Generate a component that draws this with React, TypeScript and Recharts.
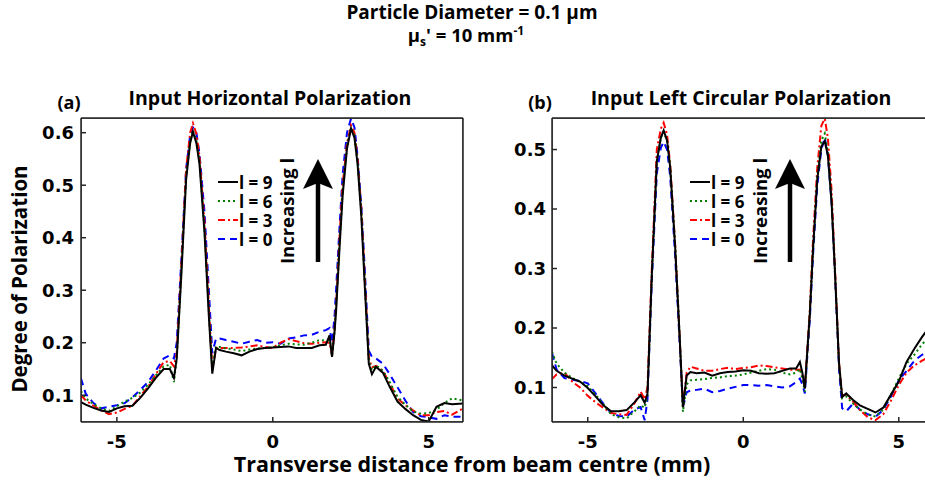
import React from "react";
import { LineChart, Line, XAxis, YAxis, ReferenceArea } from "recharts";

// transverse distance (mm), shared by both panels
const distance = [
  -6.15, -6.0, -5.75, -5.5, -5.25, -5.0, -4.75, -4.5, -4.25, -4.0,
  -3.75, -3.5, -3.3, -3.17, -3.08, -2.94, -2.78, -2.65, -2.56, -2.45,
  -2.35, -2.19, -2.05, -1.94, -1.82, -1.7, -1.5, -1.25, -1.0, -0.75,
  -0.5, -0.25, 0, 0.25, 0.5, 0.75, 1.0, 1.25, 1.5, 1.7,
  1.82, 1.9, 1.98, 2.03, 2.14, 2.24, 2.38, 2.51, 2.62, 2.72,
  2.84, 2.94, 3.08, 3.18, 3.31, 3.53, 3.75, 4.0, 4.25, 4.5,
  4.75, 5.0, 5.25, 5.5, 5.75, 6.1,
];

// (a) input horizontal polarization
const horizL9 = [
  0.087, 0.082, 0.076, 0.071, 0.068, 0.075, 0.079, 0.08, 0.095, 0.113,
  0.133, 0.15, 0.15, 0.133, 0.17, 0.32, 0.51, 0.58, 0.602, 0.58,
  0.54, 0.41, 0.25, 0.141, 0.19, 0.186, 0.183, 0.18, 0.176, 0.183,
  0.188, 0.19, 0.191, 0.192, 0.193, 0.19, 0.19, 0.19, 0.195, 0.196,
  0.214, 0.173, 0.22, 0.26, 0.38, 0.48, 0.57, 0.608, 0.59, 0.54,
  0.44, 0.32, 0.16, 0.14, 0.154, 0.143, 0.116, 0.088, 0.074, 0.062,
  0.053, 0.05, 0.078, 0.085, 0.083, 0.084,
];
const horizL6 = [
  0.108, 0.094, 0.083, 0.075, 0.07, 0.079, 0.088, 0.095, 0.105, 0.12,
  0.138, 0.155, 0.158, 0.125, 0.17, 0.33, 0.52, 0.585, 0.605, 0.585,
  0.545, 0.42, 0.26, 0.15, 0.193, 0.192, 0.189, 0.187, 0.184, 0.187,
  0.189, 0.19, 0.191, 0.195, 0.198, 0.197, 0.196, 0.2, 0.205, 0.204,
  0.205, 0.175, 0.225, 0.27, 0.39, 0.49, 0.575, 0.61, 0.595, 0.545,
  0.45, 0.33, 0.165, 0.148, 0.157, 0.147, 0.125, 0.097, 0.082, 0.069,
  0.065, 0.066, 0.072, 0.085, 0.094, 0.09,
];
const horizL3 = [
  0.1, 0.09, 0.08, 0.071, 0.064, 0.067, 0.074, 0.08, 0.098, 0.116,
  0.14, 0.163, 0.165, 0.155, 0.18, 0.34, 0.53, 0.6, 0.618, 0.598,
  0.555, 0.43, 0.27, 0.148, 0.19, 0.19, 0.19, 0.19, 0.191, 0.193,
  0.195, 0.192, 0.19, 0.2, 0.207, 0.203, 0.199, 0.198, 0.2, 0.201,
  0.2, 0.176, 0.225, 0.27, 0.4, 0.5, 0.58, 0.614, 0.6, 0.55,
  0.455, 0.335, 0.17, 0.153, 0.156, 0.147, 0.122, 0.094, 0.081, 0.071,
  0.062, 0.062, 0.068, 0.07, 0.063, 0.075,
];
const horizL0 = [
  0.132, 0.103, 0.085, 0.075, 0.078, 0.081, 0.085, 0.096, 0.11, 0.125,
  0.147, 0.17, 0.176, 0.17, 0.2, 0.35, 0.53, 0.595, 0.61, 0.6,
  0.56, 0.45, 0.3, 0.18, 0.208, 0.208, 0.205, 0.202, 0.198, 0.202,
  0.205, 0.2, 0.201, 0.198, 0.208, 0.21, 0.214, 0.215, 0.221, 0.224,
  0.228, 0.2, 0.25, 0.3, 0.42, 0.52, 0.6, 0.627, 0.61, 0.555,
  0.46, 0.35, 0.185, 0.173, 0.17, 0.16, 0.14, 0.115, 0.09, 0.068,
  0.06, 0.058, 0.055, 0.062, 0.059, 0.059,
];

// (b) input left circular polarization
const circL9 = [
  0.137, 0.128, 0.12, 0.115, 0.11, 0.099, 0.085, 0.07, 0.06, 0.06,
  0.062, 0.075, 0.087, 0.074, 0.09, 0.29, 0.48, 0.52, 0.532, 0.515,
  0.47, 0.336, 0.19, 0.067, 0.12, 0.126, 0.124, 0.125, 0.12, 0.124,
  0.126, 0.127, 0.129, 0.128, 0.124, 0.123, 0.124, 0.128, 0.132, 0.132,
  0.143, 0.125, 0.098, 0.14, 0.224, 0.33, 0.45, 0.505, 0.514, 0.49,
  0.41, 0.303, 0.14, 0.084, 0.09, 0.079, 0.07, 0.064, 0.058, 0.066,
  0.088, 0.11, 0.143, 0.165, 0.185, 0.21,
];
const circL6 = [
  0.16, 0.14, 0.125, 0.116, 0.11, 0.102, 0.088, 0.072, 0.055, 0.05,
  0.048, 0.06, 0.07, 0.066, 0.085, 0.29, 0.48, 0.52, 0.53, 0.515,
  0.47, 0.336, 0.19, 0.059, 0.105, 0.112, 0.113, 0.114, 0.116, 0.117,
  0.119, 0.12, 0.122, 0.125, 0.128, 0.131, 0.13, 0.125, 0.122, 0.125,
  0.131, 0.115, 0.093, 0.135, 0.224, 0.33, 0.455, 0.515, 0.527, 0.495,
  0.415, 0.305, 0.135, 0.082, 0.085, 0.073, 0.063, 0.055, 0.051, 0.063,
  0.088, 0.115, 0.14, 0.155, 0.173, 0.19,
];
const circL3 = [
  0.114, 0.122, 0.125, 0.11, 0.1, 0.086, 0.075, 0.066, 0.057, 0.055,
  0.054, 0.073, 0.093, 0.08, 0.1, 0.3, 0.5, 0.535, 0.545, 0.525,
  0.475, 0.34, 0.19, 0.067, 0.125, 0.135, 0.132, 0.128, 0.128, 0.131,
  0.133, 0.131, 0.133, 0.134, 0.137, 0.136, 0.134, 0.132, 0.13, 0.13,
  0.13, 0.12, 0.099, 0.14, 0.23, 0.345, 0.47, 0.54, 0.552, 0.52,
  0.43, 0.31, 0.14, 0.087, 0.088, 0.076, 0.062, 0.05, 0.045, 0.055,
  0.078, 0.104, 0.125, 0.137, 0.145, 0.155,
];
const circL0 = [
  0.158, 0.13, 0.116, 0.113, 0.111, 0.107, 0.09, 0.073, 0.057, 0.052,
  0.051, 0.063, 0.067, 0.045, 0.08, 0.28, 0.46, 0.503, 0.513, 0.5,
  0.455, 0.32, 0.18, 0.067, 0.092, 0.095, 0.096, 0.098, 0.092, 0.094,
  0.098, 0.101, 0.104, 0.104, 0.103, 0.104, 0.102, 0.1, 0.102, 0.109,
  0.115, 0.105, 0.09, 0.13, 0.215, 0.32, 0.44, 0.5, 0.52, 0.49,
  0.41, 0.3, 0.13, 0.065, 0.06, 0.073, 0.063, 0.055, 0.051, 0.062,
  0.085, 0.112, 0.128, 0.145, 0.155, 0.165,
];

const xTicks = [-5, 0, 5];
const horizTicks = [0.1, 0.2, 0.3, 0.4, 0.5, 0.6];
const circTicks = [0.1, 0.2, 0.3, 0.4, 0.5];

// l = 3 is tied to the top/right axes so those frame axes get drawn
const series = [
  { key: "l9", label: "l = 9", color: "#000000", dash: undefined as string | undefined, frame: false },
  { key: "l6", label: "l = 6", color: "#008000", dash: "2 3", frame: false },
  { key: "l3", label: "l = 3", color: "#ff0000", dash: "7 3 2 3", frame: true },
  { key: "l0", label: "l = 0", color: "#0000ff", dash: "7 5", frame: false },
];

const buildRows = (l9: number[], l6: number[], l3: number[], l0: number[]) =>
  distance.map((x, i) => ({ x, l9: l9[i], l6: l6[i], l3: l3[i], l0: l0[i] }));

const horizRows = buildRows(horizL9, horizL6, horizL3, horizL0);
const circRows = buildRows(circL9, circL6, circL3, circL0);

const AXIS = "#262626";
const tickFont = { fill: "#000", fontFamily: "DejaVu Sans", fontWeight: 700, fontSize: 18 };
const textFont = { fontFamily: "Open Sans", fontWeight: 700, fill: "#000" };

function Panel({ rows, yDomain, yTicks, marginLeft, yTickMargin }: any) {
  const xDomain = [-6.15, 6.1];
  const frameLine = { stroke: AXIS, strokeWidth: 1.5 };
  return (
    <LineChart
      width={470}
      height={483}
      data={rows}
      margin={{ top: 117, right: 6, bottom: 31, left: marginLeft }}
    >
      <XAxis
        dataKey="x"
        type="number"
        domain={xDomain}
        ticks={xTicks}
        allowDataOverflow
        height={30}
        tickSize={-5}
        tickMargin={18.5}
        axisLine={frameLine}
        tickLine={frameLine}
        tick={tickFont}
      />
      <XAxis
        xAxisId="top"
        dataKey="x"
        orientation="top"
        type="number"
        domain={xDomain}
        ticks={xTicks}
        allowDataOverflow
        height={1}
        tickSize={-5}
        tick={false}
        axisLine={frameLine}
        tickLine={frameLine}
      />
      <YAxis
        type="number"
        domain={yDomain}
        ticks={yTicks}
        allowDataOverflow
        width={60}
        tickSize={-5}
        tickMargin={yTickMargin}
        axisLine={frameLine}
        tickLine={frameLine}
        tick={tickFont}
      />
      <YAxis
        yAxisId="right"
        orientation="right"
        type="number"
        domain={yDomain}
        ticks={yTicks}
        allowDataOverflow
        width={1}
        tickSize={-5}
        tick={false}
        axisLine={frameLine}
        tickLine={frameLine}
      />
      <ReferenceArea
        x1={xDomain[0]}
        x2={xDomain[1]}
        y1={yDomain[0]}
        y2={yDomain[1]}
        fill="none"
        stroke={AXIS}
        strokeWidth={1.5}
        ifOverflow="hidden"
      />
      {[...series].reverse().map((s) => (
        <Line
          key={s.key}
          type="linear"
          dataKey={s.key}
          xAxisId={s.frame ? "top" : 0}
          yAxisId={s.frame ? "right" : 0}
          stroke={s.color}
          strokeWidth={2}
          strokeDasharray={s.dash}
          dot={false}
          activeDot={false}
          isAnimationActive={false}
        />
      ))}
    </LineChart>
  );
}

function LegendBlock({ x, y }: { x: number; y: number }) {
  return (
    <g>
      {series.map((s, i) => (
        <g key={s.key}>
          <line
            x1={x}
            x2={x + 20}
            y1={y + i * 19}
            y2={y + i * 19}
            stroke={s.color}
            strokeWidth={2}
            strokeDasharray={s.dash}
          />
          <text x={x + 21} y={y + i * 19} dominantBaseline="central" fontSize={17} {...textFont}>
            {s.label}
          </text>
        </g>
      ))}
    </g>
  );
}

function Arrow({ x }: { x: number }) {
  return (
    <g>
      <line x1={x} x2={x} y1={262} y2={180} stroke="#000" strokeWidth={4.5} />
      <polygon points={`${x},159 ${x - 15},189 ${x},183 ${x + 15},189`} fill="#000" />
    </g>
  );
}

export default function App() {
  return (
    <div
      style={{
        position: "absolute",
        left: 0,
        top: 0,
        width: 925,
        height: 483,
        overflow: "hidden",
        background: "#fff",
      }}
    >
      <div style={{ position: "absolute", left: 0, top: 0 }}>
        <Panel rows={horizRows} yDomain={[0.049, 0.628]} yTicks={horizTicks} marginLeft={21} yTickMargin={12} />
      </div>
      <div style={{ position: "absolute", left: 470, top: 0 }}>
        <Panel rows={circRows} yDomain={[0.042, 0.553]} yTicks={circTicks} marginLeft={22} yTickMargin={11} />
      </div>
      <svg
        width={925}
        height={483}
        style={{ position: "absolute", left: 0, top: 0, pointerEvents: "none" }}
      >
        <text x={472} y={19} textAnchor="middle" fontSize={19} {...textFont}>
          Particle Diameter = 0.1 µm
        </text>
        <text x={466} y={42} textAnchor="middle" fontSize={18.5} {...textFont}>
          μ<tspan fontSize={12} dy={4}>s</tspan>
          <tspan dy={-4}>' = 10 mm</tspan>
          <tspan fontSize={12} dy={-7}>-1</tspan>
        </text>

        <text x={270} y={105} textAnchor="middle" fontSize={19.5} {...textFont}>
          Input Horizontal Polarization
        </text>
        <text x={741} y={105} textAnchor="middle" fontSize={19.5} {...textFont}>
          Input Left Circular Polarization
        </text>
        <text x={69} y={109} textAnchor="middle" fontSize={18} {...textFont}>
          (a)
        </text>
        <text x={540} y={109} textAnchor="middle" fontSize={18} {...textFont}>
          (b)
        </text>

        <text transform="translate(27,279) rotate(-90)" textAnchor="middle" fontSize={20.5} {...textFont}>
          Degree of Polarization
        </text>
        <text x={472} y={472} textAnchor="middle" fontSize={21.5} {...textFont}>
          Transverse distance from beam centre (mm)
        </text>

        <LegendBlock x={218} y={182} />
        <LegendBlock x={690} y={182} />

        <text transform="translate(294,211) rotate(-90)" textAnchor="middle" fontSize={18.5} {...textFont}>
          Increasing l
        </text>
        <text transform="translate(767,211) rotate(-90)" textAnchor="middle" fontSize={18.5} {...textFont}>
          Increasing l
        </text>
        <Arrow x={318} />
        <Arrow x={790} />
      </svg>
    </div>
  );
}
